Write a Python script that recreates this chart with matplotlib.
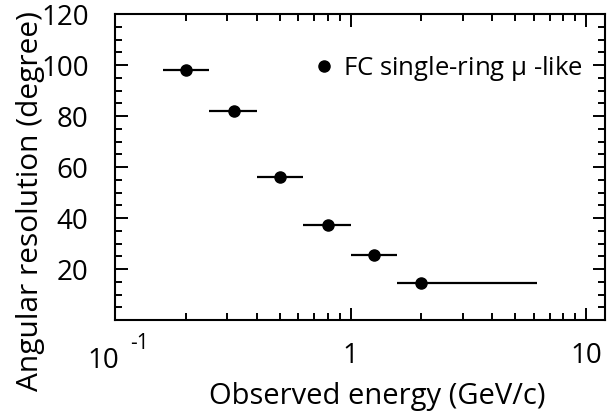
import numpy as np
import matplotlib
matplotlib.use('Agg')
import matplotlib.pyplot as plt
import matplotlib.transforms as mtransforms
from matplotlib.lines import Line2D
from matplotlib.ticker import LogLocator, MultipleLocator, NullFormatter

plt.rcParams['font.family'] = ['Open Sans', 'DejaVu Sans']
plt.rcParams['mathtext.fontset'] = 'custom'
plt.rcParams['mathtext.rm'] = 'Open Sans'

# bins in observed energy (GeV/c) and angular resolution (degree)
energy = [0.2, 0.32, 0.5, 0.8, 1.26, 2.0]
energy_lo = [0.16, 0.25, 0.4, 0.63, 1.0, 1.58]
energy_hi = [0.25, 0.4, 0.63, 1.0, 1.58, 6.2]
resolution = [98, 82, 56, 37.5, 25.5, 14.5]

xtick_vals = [0.1, 1, 10]
xtick_labels = ['', '1', '10']
ytick_vals = [20, 40, 60, 80, 100, 120]

energy = np.array(energy)
xerr = [energy - np.array(energy_lo), np.array(energy_hi) - energy]

fig = plt.figure(figsize=(6.1, 4.18), dpi=100)
ax = fig.add_axes([0.1885, 0.234, 0.803, 0.732])

ax.errorbar(energy, resolution, xerr=xerr, fmt='o', color='black',
            markersize=8, elinewidth=1.6, capsize=0)

ax.set_xscale('log')
ax.set_xlim(0.1, 12)
ax.set_ylim(0, 120)
ax.set_xticks(xtick_vals)
ax.set_xticklabels(xtick_labels)
ax.xaxis.set_minor_locator(LogLocator(base=10, subs=np.arange(2, 10)))
ax.xaxis.set_minor_formatter(NullFormatter())
ax.set_yticks(ytick_vals)
ax.yaxis.set_minor_locator(MultipleLocator(5))

ax.tick_params(which='both', direction='in', top=True, right=True, width=1.4,
               labelsize=20)
ax.tick_params(which='major', length=9)
ax.tick_params(which='minor', length=5)
ax.tick_params(axis='x', which='major', pad=16)
ax.tick_params(axis='y', which='major', pad=19)
for s in ax.spines.values():
    s.set_linewidth(1.5)

# the 10^-1 label, drawn in two pieces like the original
trans = mtransforms.blended_transform_factory(ax.transData, ax.transAxes)
ax.text(0.1, -0.135, '10', transform=trans + mtransforms.ScaledTranslation(0.04, 0, fig.dpi_scale_trans),
        fontsize=20, ha='right', va='center', clip_on=False)
ax.text(0.1, -0.075, '-1', transform=trans + mtransforms.ScaledTranslation(0.15, 0, fig.dpi_scale_trans),
        fontsize=15, ha='left', va='center', clip_on=False)

ax.set_xlabel('Observed energy (GeV/c)', fontsize=21, labelpad=8)
ax.xaxis.label.set_x(0.535)
ax.set_ylabel('Angular resolution (degree)', fontsize=21.5, labelpad=-3)
ax.yaxis.label.set_y(0.39)

handle = Line2D([], [], marker='o', color='black', linestyle='none', markersize=8)
ax.legend([handle], [r'FC single-ring $\mathregular{\mu}$ -like'], loc='upper right',
          frameon=False, fontsize=18.5, handletextpad=0.15, borderaxespad=0.0,
          handlelength=1.2, bbox_to_anchor=(0.977, 0.905))

fig.savefig('out.png', dpi=100)
